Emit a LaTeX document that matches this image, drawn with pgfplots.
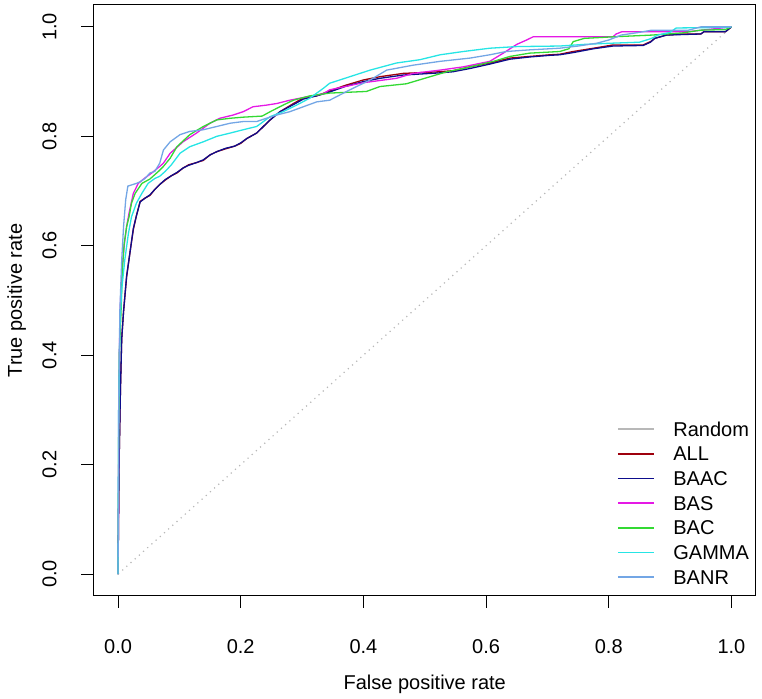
\documentclass[border=0pt]{standalone}
\usepackage{pgfplots}
\pgfplotsset{compat=1.18}
\usepackage{fontspec}
\setmainfont{Liberation Sans}
\definecolor{randgray}{rgb}{0.72,0.72,0.72}
\definecolor{allred}{rgb}{0.62,0,0.05}
\definecolor{baacblue}{rgb}{0.05,0.05,0.55}
\definecolor{basmag}{rgb}{0.9,0.1,0.9}
\definecolor{bacgreen}{rgb}{0.2,0.85,0.2}
\definecolor{gamcyan}{rgb}{0.15,0.9,0.9}
\definecolor{banrblue}{rgb}{0.45,0.65,0.9}
\begin{document}
\begin{tikzpicture}
\useasboundingbox (-46.75pt,-51.5pt) rectangle (334.25pt,298pt);
\begin{axis}[
  scale only axis,
  width=331.25pt, height=295.5pt,
  xmin=-0.04, xmax=1.04, ymin=-0.04, ymax=1.04,
  xtick={0,0.2,0.4,0.6,0.8,1.0},
  ytick={0,0.2,0.4,0.6,0.8,1.0},
  xticklabels={0.0,0.2,0.4,0.6,0.8,1.0},
  yticklabels={0.0,0.2,0.4,0.6,0.8,1.0},
  font=\fontsize{10}{12}\selectfont,
  tick align=outside,
  major tick length=6pt,
  xtick pos=bottom, ytick pos=left,
  axis line style={line width=0.5pt, black},
  major tick style={line width=0.5pt, black},
  xticklabel style={anchor=base, yshift=-23pt},
  yticklabel style={xshift=-12.5pt, rotate=90, anchor=base},
  legend cell align=left,
  legend image code/.code={\draw[#1, line width=0.75pt] (0pt,3.5pt) -- (18pt,3.5pt); \path (0pt,0pt) (27.5pt,0pt);},
  legend style={draw=none, fill=none, inner sep=0pt, outer sep=0pt,
    at={(rel axis cs:0.7902,0.2948)}, anchor=north west,
    row sep=4.8pt,
    nodes={inner sep=0pt, text height=7.2pt, text depth=0pt, anchor=base west},
    font=\fontsize{10}{12}\selectfont},
  every axis plot/.append style={line width=0.65pt},
]
\addplot[color=randgray, line width=0.6pt, dash pattern=on 0.6pt off 2.2pt, forget plot] coordinates {(0,0) (1,1)};
\addlegendimage{color=randgray, solid}
\addlegendentry{Random}
\addplot[color=allred] coordinates {
(0,0) (0.001,0.12) (0.002,0.22) (0.003,0.28) (0.004,0.34) (0.006,0.43) (0.009,0.48) (0.014,0.543) (0.020,0.592) (0.025,0.630) (0.030,0.655) (0.036,0.681) (0.044,0.687) (0.052,0.692) (0.060,0.703) (0.068,0.712) (0.077,0.720) (0.087,0.728) (0.096,0.733) (0.106,0.742) (0.115,0.748) (0.128,0.752) (0.139,0.756) (0.150,0.766) (0.161,0.772) (0.175,0.777) (0.190,0.782) (0.200,0.787) (0.210,0.796) (0.226,0.806) (0.237,0.818) (0.248,0.830) (0.264,0.845) (0.286,0.860) (0.302,0.870) (0.324,0.874) (0.345,0.883) (0.370,0.893) (0.400,0.903) (0.427,0.909) (0.465,0.915) (0.525,0.918) (0.546,0.920) (0.574,0.927) (0.606,0.934) (0.639,0.943) (0.671,0.946) (0.704,0.949) (0.720,0.950) (0.742,0.955) (0.775,0.961) (0.807,0.967) (0.856,0.967) (0.868,0.973) (0.875,0.979) (0.894,0.985) (0.920,0.987) (0.950,0.987) (0.955,0.991) (0.990,0.991) (1,1)
};
\addlegendentry{ALL}
\addplot[color=baacblue] coordinates {
(0,0) (0.001,0.12) (0.002,0.22) (0.003,0.28) (0.004,0.34) (0.006,0.43) (0.009,0.48) (0.014,0.545) (0.020,0.592) (0.025,0.632) (0.030,0.655) (0.036,0.680) (0.044,0.687) (0.052,0.693) (0.060,0.703) (0.068,0.712) (0.077,0.721) (0.087,0.728) (0.096,0.734) (0.106,0.742) (0.115,0.747) (0.128,0.752) (0.139,0.757) (0.150,0.766) (0.161,0.772) (0.175,0.778) (0.190,0.782) (0.200,0.788) (0.210,0.796) (0.226,0.806) (0.237,0.818) (0.248,0.830) (0.264,0.845) (0.286,0.858) (0.302,0.868) (0.324,0.874) (0.345,0.881) (0.370,0.891) (0.400,0.900) (0.427,0.906) (0.465,0.912) (0.525,0.916) (0.546,0.918) (0.574,0.924) (0.606,0.932) (0.639,0.941) (0.671,0.945) (0.704,0.948) (0.720,0.949) (0.742,0.953) (0.775,0.960) (0.807,0.965) (0.856,0.966) (0.868,0.972) (0.875,0.979) (0.894,0.985) (0.920,0.986) (0.950,0.987) (0.955,0.991) (0.990,0.991) (1,1)
};
\addlegendentry{BAAC}
\addplot[color=basmag] coordinates {
(0,0) (0.001,0.2) (0.002,0.4) (0.004,0.5) (0.007,0.56) (0.010,0.60) (0.014,0.635) (0.018,0.660) (0.025,0.696) (0.033,0.714) (0.044,0.724) (0.055,0.733) (0.068,0.745) (0.074,0.751) (0.085,0.769) (0.106,0.790) (0.128,0.806) (0.150,0.824) (0.166,0.833) (0.188,0.839) (0.204,0.845) (0.220,0.854) (0.242,0.857) (0.259,0.860) (0.280,0.866) (0.307,0.872) (0.335,0.878) (0.345,0.885) (0.400,0.898) (0.454,0.906) (0.481,0.915) (0.525,0.921) (0.563,0.927) (0.606,0.937) (0.628,0.952) (0.650,0.968) (0.666,0.976) (0.677,0.982) (0.807,0.982) (0.812,0.987) (0.821,0.991) (0.927,0.991) (0.960,0.995) (1,1)
};
\addlegendentry{BAS}
\addplot[color=bacgreen] coordinates {
(0,0) (0.001,0.25) (0.002,0.40) (0.005,0.483) (0.007,0.556) (0.010,0.604) (0.014,0.635) (0.018,0.653) (0.022,0.678) (0.028,0.696) (0.039,0.714) (0.052,0.722) (0.066,0.736) (0.074,0.745) (0.085,0.760) (0.096,0.781) (0.117,0.803) (0.139,0.818) (0.161,0.830) (0.183,0.833) (0.204,0.835) (0.235,0.837) (0.248,0.845) (0.269,0.857) (0.286,0.866) (0.313,0.874) (0.345,0.879) (0.405,0.882) (0.427,0.891) (0.470,0.896) (0.509,0.909) (0.536,0.918) (0.563,0.924) (0.612,0.937) (0.639,0.946) (0.671,0.952) (0.720,0.955) (0.735,0.960) (0.742,0.973) (0.760,0.979) (0.810,0.982) (0.870,0.985) (0.920,0.989) (0.950,0.994) (0.990,0.995) (1,1)
};
\addlegendentry{BAC}
\addplot[color=gamcyan] coordinates {
(0,0) (0.001,0.30) (0.003,0.45) (0.006,0.52) (0.011,0.574) (0.017,0.623) (0.022,0.653) (0.030,0.678) (0.039,0.696) (0.049,0.714) (0.060,0.723) (0.068,0.727) (0.077,0.736) (0.087,0.748) (0.101,0.769) (0.117,0.781) (0.139,0.790) (0.161,0.800) (0.183,0.806) (0.204,0.812) (0.226,0.818) (0.237,0.827) (0.248,0.836) (0.269,0.845) (0.291,0.857) (0.313,0.870) (0.335,0.888) (0.345,0.897) (0.378,0.909) (0.411,0.921) (0.454,0.934) (0.492,0.940) (0.525,0.949) (0.563,0.955) (0.606,0.961) (0.650,0.964) (0.720,0.965) (0.760,0.968) (0.800,0.970) (0.850,0.972) (0.870,0.979) (0.880,0.985) (0.900,0.990) (0.910,0.998) (0.990,0.999) (1,1)
};
\addlegendentry{GAMMA}
\addplot[color=banrblue] coordinates {
(0,0) (0.001,0.30) (0.003,0.483) (0.006,0.574) (0.009,0.635) (0.0125,0.684) (0.016,0.709) (0.030,0.714) (0.036,0.717) (0.044,0.723) (0.052,0.733) (0.060,0.736) (0.068,0.751) (0.074,0.775) (0.085,0.790) (0.101,0.803) (0.117,0.809) (0.139,0.812) (0.161,0.818) (0.183,0.824) (0.204,0.827) (0.226,0.827) (0.242,0.833) (0.259,0.839) (0.280,0.845) (0.302,0.854) (0.324,0.863) (0.345,0.866) (0.378,0.885) (0.411,0.903) (0.438,0.921) (0.481,0.930) (0.525,0.937) (0.574,0.943) (0.606,0.949) (0.633,0.955) (0.671,0.958) (0.720,0.961) (0.750,0.965) (0.780,0.970) (0.800,0.976) (0.820,0.985) (0.850,0.990) (0.870,0.994) (0.930,0.994) (0.950,1) (1,1)
};
\addlegendentry{BANR}
\end{axis}
\node[anchor=base, font=\fontsize{10}{12}\selectfont] at (165.625pt,-47pt) {False positive rate};
\node[anchor=base, rotate=90, font=\fontsize{10}{12}\selectfont] at (-35.75pt,147.75pt) {True positive rate};
\end{tikzpicture}
\end{document}
